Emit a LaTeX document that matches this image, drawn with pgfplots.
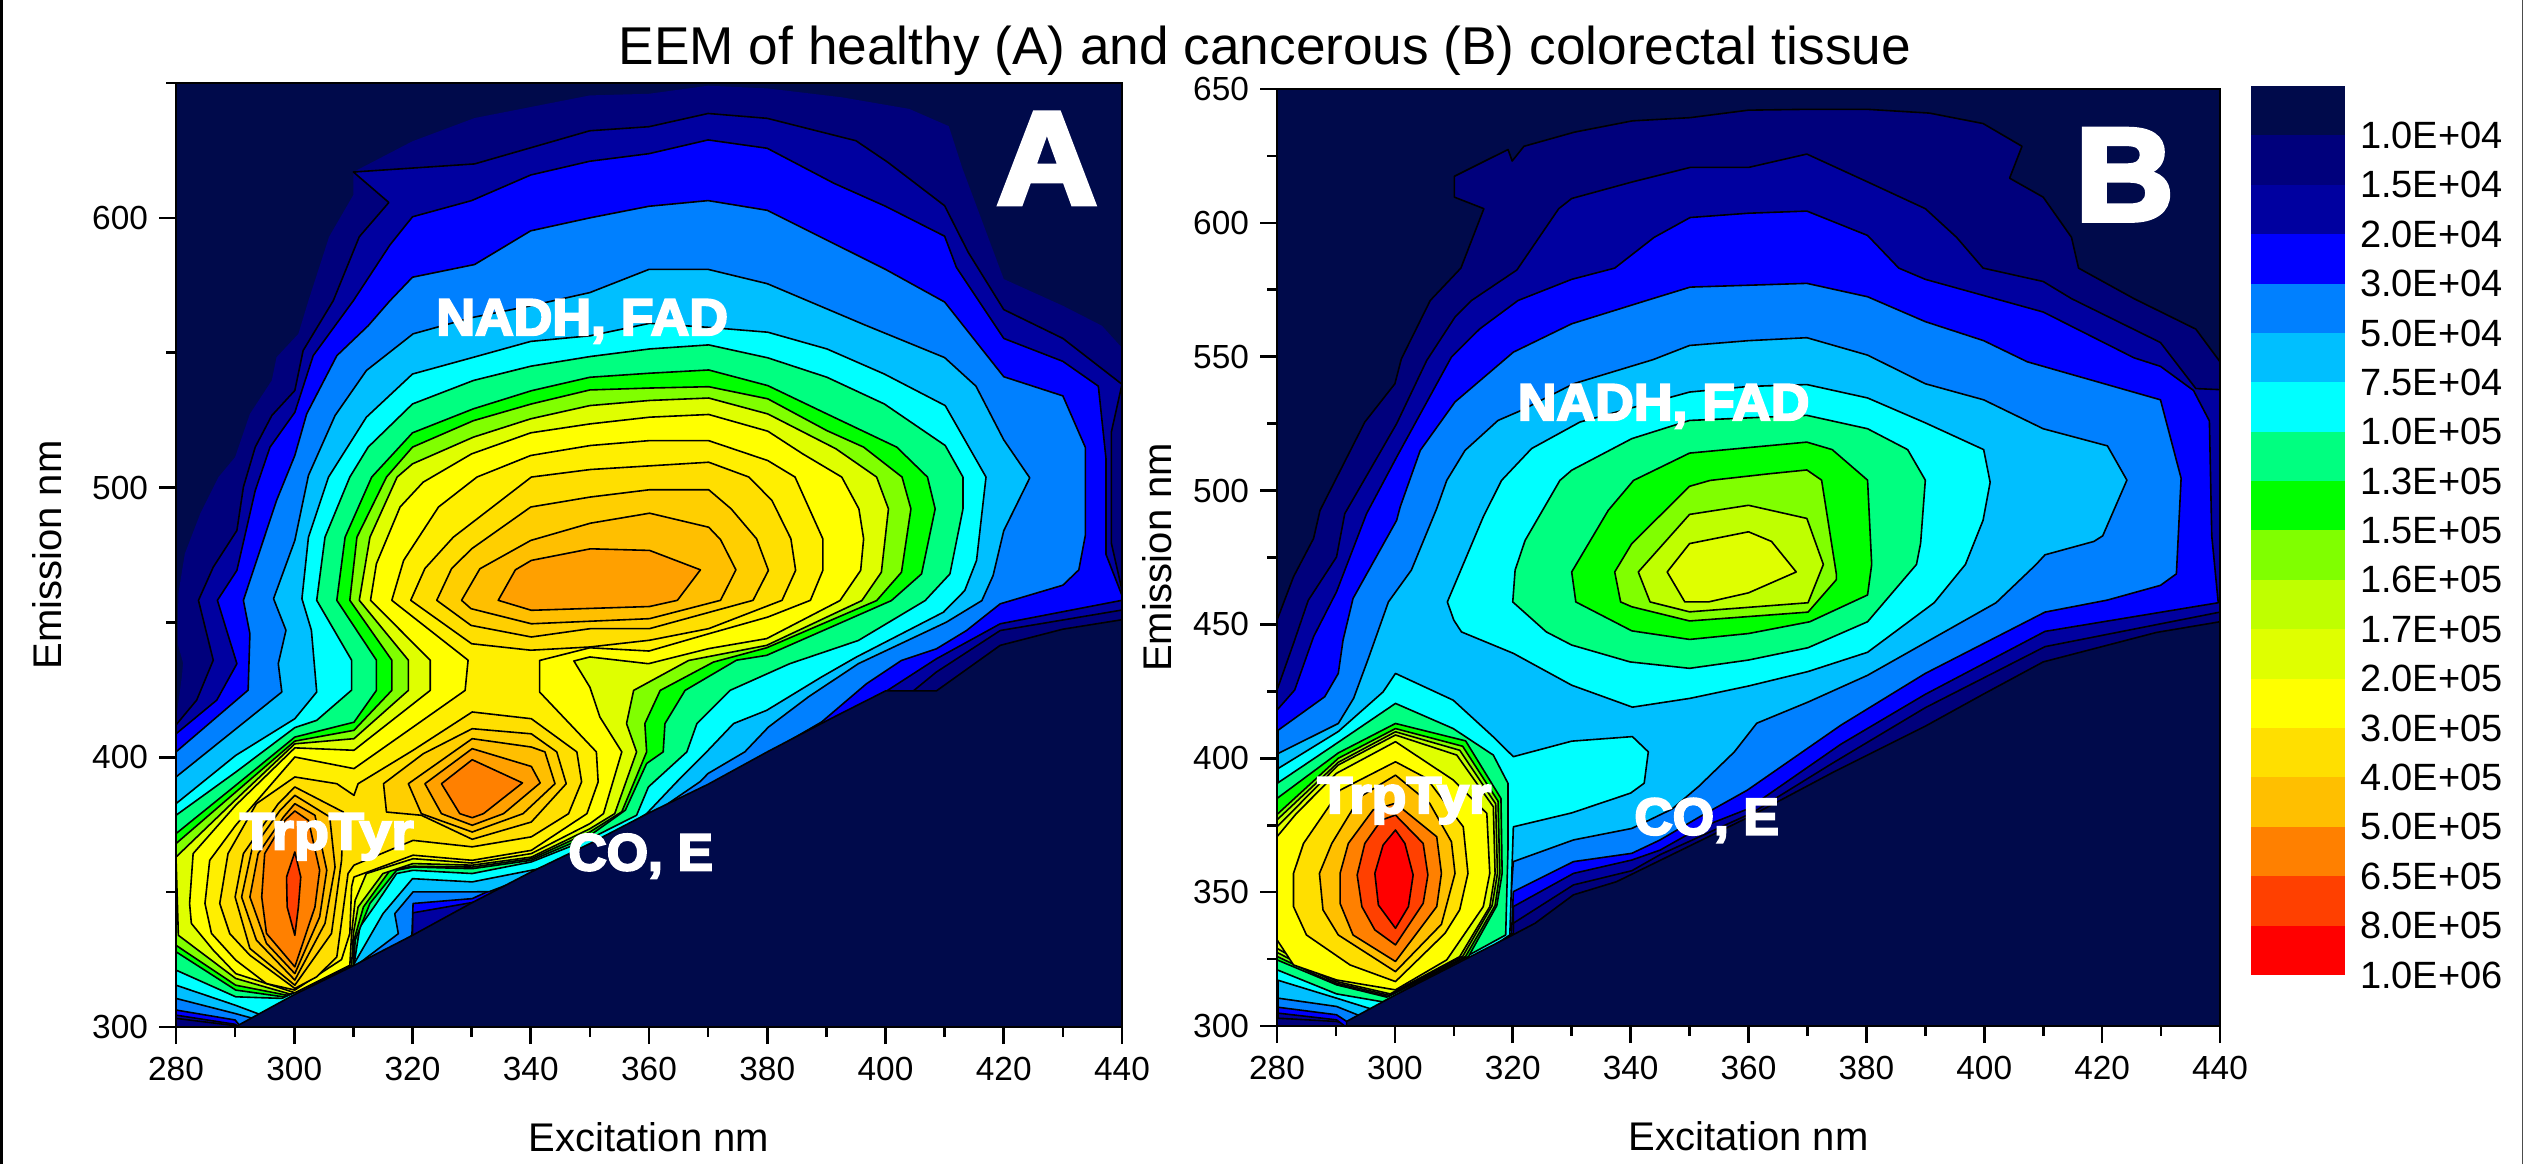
\documentclass[border=0pt]{standalone}
\usepackage{fontspec}
\usepackage{graphicx}
\setmainfont{Liberation Sans}
\newfontfamily\blk[FakeBold=4]{Liberation Sans Bold}
\usepackage{pgfplots}
\pgfplotsset{compat=1.18}
\definecolor{c01}{HTML}{000A4B}
\definecolor{c02}{HTML}{00007C}
\definecolor{c03}{HTML}{0000A0}
\definecolor{c04}{HTML}{0000FF}
\definecolor{c05}{HTML}{0080FF}
\definecolor{c06}{HTML}{00BFFF}
\definecolor{c07}{HTML}{00FFFF}
\definecolor{c08}{HTML}{00FF80}
\definecolor{c09}{HTML}{00FF00}
\definecolor{c10}{HTML}{80FF00}
\definecolor{c11}{HTML}{BFFF00}
\definecolor{c12}{HTML}{DFFF00}
\definecolor{c13}{HTML}{FFFF00}
\definecolor{c14}{HTML}{FFEF00}
\definecolor{c15}{HTML}{FFDF00}
\definecolor{c16}{HTML}{FFCF00}
\definecolor{c17}{HTML}{FFBF00}
\definecolor{c18}{HTML}{FFA000}
\definecolor{c19}{HTML}{FF8000}
\definecolor{c20}{HTML}{FF4000}
\definecolor{c21}{HTML}{FF0000}
\pgfplotsset{
  P/.style={fill=#1,draw=black,line width=.8pt,line join=round,mark=none,solid},
  Q/.style={fill=#1,draw=none,mark=none,solid},
  panel/.style={
    scale only axis, axis on top, xmin=280,xmax=440,ymin=300,ymax=650,
    xtick={280,300,...,440}, minor xtick={290,310,...,430},
    tick align=outside, xtick pos=lower, ytick pos=left,
    major tick length=8.5pt, minor tick length=5pt,
    tick style={black,line width=1.3pt}, minor tick style={black,line width=1.3pt},
    axis line style={line width=1.3pt},
    /pgf/number format/assume math mode=true,
    /pgf/number format/1000 sep={},
    tick label style={font=\fontsize{16.7}{18}\selectfont},
    xticklabel style={yshift=-3pt}, yticklabel style={xshift=-2pt},
    xlabel={Excitation nm}, ylabel={Emission nm},
    every axis x label/.style={at={(axis description cs:0.5,0)},anchor=center,yshift=-55pt,font=\fontsize{20}{22}\selectfont},
    axis background/.style={fill=c01},
  },
}
\newcommand{\wt}[5]{\node[white,anchor=base,inner sep=0pt,font=\blk\fontsize{#3}{#3}\selectfont] at (axis cs:#1,#2) {\scalebox{#4}[1]{#5}};}
\begin{document}
\begin{tikzpicture}[x=1pt,y=1pt]
\path[use as bounding box] (0,0) rectangle (1261.5,582);
\draw[line width=1.5pt] (0.75,0)--(0.75,582);
\draw[line width=.6pt,black!70] (1261.2,0)--(1261.2,582);
\node[anchor=center,font=\fontsize{26.6}{28}\selectfont] at (632.5,556.4) {EEM of healthy (A) and cancerous (B) colorectal tissue};

%%%%%%%%%%%%%%%% PANEL A
\begin{axis}[panel, at={(88pt,68.5pt)},anchor=south west,width=473pt,height=472pt,
  ytick={300,400,500,600}, minor ytick={350,450,550,650},
  every axis y label/.style={at={(axis description cs:0,0.5)},rotate=90,anchor=center,yshift=64.5pt,font=\fontsize{20}{22}\selectfont}]
\addplot[Q=c02] coordinates {(280,300)(280,414)(281,430)(281.2,435)(280.3,442)(280.4,460.7)(281.5,475.5)(284.1,490.3)(287.2,503.9)(290,511.3)(292.5,527.3)(296.2,539.7)(297,548.3)(300.7,557)(302.4,569.3)(305.9,593)(310,608.5)(310,617)(320,628.4)(330.5,637)(350,645.4)(360,646)(370,649)(380,648)(392.6,644.7)(404,640.4)(410.7,634)(413,618.4)(420,577.3)(430,567.4)(436.6,560)(440,551.8)(440,300)} --cycle;
\addplot[P=c03] coordinates {(280,412)(283.5,421.2)(286.3,436)(283.8,458.2)(286.3,470.5)(290.3,484.1)(291.4,500.2)(293.4,515)(296.2,526.7)(300.1,536)(301.5,550.8)(306.6,569.3)(311,593)(316,605.7)(310,617)(330.5,620)(350,632.3)(360,633.8)(370,638.7)(380,636.9)(395,628.6)(400.4,620.6)(410,604.5)(414,587.2)(420,566)(430,555.3)(440,538.3)(438.2,520.6)(438.2,479.4)(440,462)(440,454.6)(419.4,447)(408.6,431.6)(404.7,424.6)(400,415)(300,299)(295,299)(290,300.5)(280,303.2)} --cycle;
\addplot[P=c04] coordinates {(280,408.7)(286.9,421.2)(290.3,434.7)(287,458.2)(290.3,469.3)(293.4,498.9)(295.9,515)(300.1,527.9)(303.2,548.9)(310,569.3)(316.2,590)(320,600.4)(330,606.4)(340,615.9)(350,621)(360,623.8)(370,628.9)(380,625.8)(391.3,612.8)(400,604.3)(410,593.2)(412,581.6)(420,555.3)(430,546.8)(436,537.6)(437.3,510.6)(437.3,475.2)(440,460)(440,458.2)(419.4,449.5)(408.6,436.5)(400.2,424.6)(360,372)(331,346.5)(320,342.3)(320,334)(310,312)(291,299.5)(290,301)(280,304.4)} --cycle;
\addplot[P=c05] coordinates {(280,402)(292.2,424.9)(292.5,445.8)(291.4,458.2)(297,495.2)(300.1,511.9)(302.1,527.3)(307.2,548.9)(312.5,560)(316.2,569.3)(320,578)(330.5,582.7)(340,595.2)(350,600)(360,604.3)(370,606.4)(380,602.8)(400,580.9)(410,568.8)(420,541.1)(430,534)(433.8,514.9)(433.8,482.3)(432.7,469.5)(430,463.8)(419.4,456.9)(413.7,447)(408.6,440.2)(402.7,435.9)(396.8,427.3)(389.2,413.1)(360,376)(332,349.5)(330.1,347.6)(320.1,345.8)(319.9,334)(310,315)(291,300)(290,302.6)(280,306.3)} --cycle;
\addplot[P=c06] coordinates {(280,392.7)(297.9,424.2)(297.3,434.7)(298.6,447.1)(296.5,458.8)(300.1,480.4)(302.4,504.5)(306.9,526.7)(312.2,543.4)(315.4,548.9)(320.1,557)(330,563)(340,567.4)(350,572.3)(360,580.9)(370,580.9)(380,575.6)(396.5,560.3)(410,548.2)(415.3,537.6)(420,517.7)(424.4,503.6)(420,484)(418.2,467.4)(416.3,458.1)(410.3,450.1)(395.4,434.7)(386.9,422.3)(380.2,411.2)(376.2,402)(370,394)(368.6,390.9)(362,381)(350,366)(340,356)(333,350.2)(330.1,350.1)(320.1,350.1)(317,342)(317.6,334.6)(310,322)(300,306)(295,302)(290,305)(280,310.6)} --cycle;
\addplot[P=c07] coordinates {(280,382.8)(290.1,400.7)(300.1,414.3)(303.8,424.2)(302.9,447.1)(301.3,458.8)(302.4,481.6)(305.8,503.9)(312.2,526.1)(320,542.1)(330.3,548.3)(340,554.2)(350.1,556.3)(360.1,560.9)(370.1,559.4)(380.1,557.6)(390.1,551.4)(399.8,542.1)(410.1,530.4)(417,503.9)(415.4,473)(413.4,461.8)(409.8,453.8)(395.1,437.2)(389.2,429.8)(379.9,417.4)(374.3,412.5)(370,402.6)(364.7,390.9)(359.6,379.1)(350,366)(341,358.5)(330.1,353.8)(320,355)(315,342)(310,323)(300,308)(295,304)(290,308.1)(280,315.5)} --cycle;
\addplot[P=c08] coordinates {(410.9,468)(406.7,458.1)(395.4,443.3)(383.8,434.7)(373.7,424.8)(368.1,412.5)(366.4,402)(359.9,389)(357.9,378.5)(350,369.8)(340.1,361.2)(330.1,356.9)(320.1,358.1)(317.3,356.9)(313.9,345.8)(311.1,337.1)(310.1,322.9)(297.9,310.6)(290.1,311.2)(280,321.1)(280,378.5)(290.1,394.5)(300.1,411)(303.8,413.7)(309.7,424.9)(309.7,436)(303.8,458.2)(305.2,481.6)(309.4,503.9)(312.5,515)(320,531)(330.3,539.7)(340,545)(350.1,548.6)(360.1,551.4)(370.1,552.9)(380.1,548.1)(390.1,540.9)(399.8,531)(410.1,515.6)(413.1,503.9)(413.1,492.1)} --cycle;
\addplot[P=c09] coordinates {(406.1,468)(401,458.1)(379.9,437.8)(374.8,436)(366.1,424.8)(362.7,412.5)(362.4,402)(359.6,397.7)(356,380.4)(350,371)(340.1,361.8)(330.1,358.7)(320.1,359.3)(317.3,358.1)(312.8,345.8)(310.3,332.2)(310.1,322.9)(298.1,311.2)(290.1,313.7)(280,327.9)(280,371.7)(290.1,389.6)(300.1,407.5)(310.1,413)(313.9,424.8)(313.9,436)(307.2,458.2)(308.6,481.6)(313.1,503.9)(320,520.3)(330.3,529.2)(340.1,535.9)(350,540.9)(360.1,542.4)(370.1,543.6)(380.1,537.8)(390.1,527.3)(401.9,515)(407.1,503.9)(408.4,492.1)} --cycle;
\addplot[P=c10] coordinates {(402.7,468.6)(398.5,458.1)(379.9,440.6)(370.9,435.3)(361.9,424.8)(359.3,412.5)(359.6,402)(355.4,379.8)(350,372.3)(340.1,362.4)(330.1,359.3)(320.1,359.6)(316.2,358.1)(311.7,344.5)(310.1,332.2)(310,322.9)(298.7,311.8)(290.1,315.5)(280,330.3)(280,368)(290.1,387.1)(300.1,406)(310.1,410)(316.5,424.8)(316.5,436)(309.4,458.2)(310.6,481.6)(315.6,503.9)(320,515)(330.3,524.8)(340.1,531)(350,536.2)(360.1,536.9)(370.1,537.4)(380.1,532.9)(390.1,521.1)(396.3,515)(402.8,503.9)(404.3,492.1)} --cycle;
\addplot[P=c12] coordinates {(399.3,468.6)(396,458.1)(379.9,441.5)(366.7,435.9)(357.4,424.8)(356.2,412.5)(357.9,402)(354.2,379.1)(350,373.5)(340.1,363)(330.1,360)(320.1,360.6)(315,356.9)(310.8,344.5)(310,334.7)(309.7,322.9)(299.3,312.2)(290.1,318)(280.4,334)(280,363)(290.1,384.3)(300.1,405)(310.1,406.9)(319.3,424.8)(319.3,436)(311,458.2)(312.8,481.6)(317.4,503.9)(320,508.8)(330.3,518.7)(340,525.5)(350,530.4)(360.1,532.3)(370.1,533.2)(380.1,527.3)(391.6,514.4)(398.5,503.9)(400.5,492.1)} --cycle;
\addplot[P=c13] coordinates {(355.4,402)(352.3,379.1)(350,375.4)(340.1,364.3)(330.1,360.8)(320.1,362.4)(312.2,356.9)(310.3,347)(309.7,334.7)(309.4,322.9)(300.1,312.7)(290.1,319.8)(286.3,328.5)(282.6,338.4)(282.3,345.8)(282.9,364.3)(290.1,382.2)(300.1,403.5)(310.1,402.6)(323,424.8)(323,436)(312.9,458.2)(313.9,471.8)(317.9,492.8)(321.8,502)(330,512.5)(340,520.3)(350,523.6)(360.1,526.1)(370.1,527.1)(380.1,520.9)(386,512.5)(392.6,503.9)(395.5,492.1)(396.3,481)(395.8,469.3)(392.3,458.1)(379.9,444)(370.1,440.3)(359.9,434.7)(350,437.2)(347.3,435.7)(350,426)(351.7,414.9)} --cycle;
\addplot[P=c14] coordinates {(316.5,458.2)(318.5,473)(324.4,492.8)(330.9,503.9)(340,511.9)(350.1,515.6)(360,517.4)(370.1,517.4)(380.1,510)(384.7,503.9)(389.4,481)(389.4,469.3)(387.3,458.2)(380.1,452)(370.1,445.8)(360,439.4)(350,440.6)(341.5,435.9)(341.5,424.2)(351.1,402)(351.4,390.9)(349.5,379.1)(340.1,365.5)(330.1,361.8)(320.1,363.7)(310.1,355.6)(309.7,352)(309.4,334.7)(308,325)(300.1,313.7)(295.3,316.1)(290.1,324.8)(286,334.7)(284.9,345.8)(285.7,361.8)(290.1,374.8)(300.1,400.1)(310.1,395.8)(328.9,424.8)(329.4,436)} --cycle;
% upper blob rings
\addplot[P=c15] coordinates {(319.7,458.2)(322.1,470)(326.9,481.6)(340.1,503.9)(350.1,506.7)(370.1,509.4)(376.9,503.9)(380.8,495.2)(384,481)(384.8,469.3)(382.5,458.2)(370.1,447.7)(360.1,443.4)(350,440.9)(340,439.7)(330,442.1)} --cycle;
\addplot[P=c16] coordinates {(324.1,458.2)(326.6,469.9)(330,477.3)(340,492.8)(350.1,496.5)(360.1,499.2)(370.1,499.2)(373.9,492.1)(378.2,481)(380.2,469.3)(377.6,458.2)(360.1,447.7)(350.1,447.7)(340.1,444.6)(329.9,448.9)} --cycle;
\addplot[P=c17] coordinates {(328.3,458.2)(331.4,469.9)(340,480.4)(350.1,486.8)(360.1,490.5)(370.1,485.3)(372.1,480.7)(374.7,469.5)(372.1,458.2)(360.1,451.4)(340.1,449.5)(329.9,455.1)} --cycle;
\addplot[P=c18] coordinates {(334.5,458.2)(337.4,469.5)(340.1,473)(350.1,477.3)(360.1,476.7)(368.7,469.5)(364.8,458.2)(360.1,455.9)(340.1,454.5)} --cycle;
% lower joined region
\addplot[P=c15] coordinates {(310.8,390.2)(320.1,402.6)(330.1,416.8)(340.1,414.3)(347.8,402)(348.6,390.9)(346.4,379.1)(340.1,370.5)(330.1,366.8)(320.1,369.2)(310.1,360)(309.1,356.9)(307.2,326)(303.8,318.6)(300.1,314.3)(292.5,326.6)(289.1,334.6)(287.4,345.8)(288.8,364.3)(293.6,382.8)(300.1,392.7)(307.2,390.2)(310.1,385.9)} --cycle;
\addplot[P=c16] coordinates {(315.1,390.2)(315.6,379.7)(321.5,378.5)(330.1,369.6)(340.1,376)(346,390.2)(344.4,402)(340.1,408.7)(330.1,410.6)(321.8,401.3)} --cycle;
\addplot[P=c17] coordinates {(319.3,390.2)(321.5,379.1)(330.1,372.3)(338.7,379.1)(344.1,390.2)(342.4,402)(340.1,403.8)(330.1,406.9)} --cycle;
\addplot[P=c18] coordinates {(322.1,390.2)(324.9,379.1)(330.1,374.8)(335.4,379.1)(341.6,390.5)(340.1,396.6)(330.1,403.2)} --cycle;
\addplot[P=c19] coordinates {(324.9,390.2)(328,379.1)(330.1,377.6)(332,379.1)(338.6,390.5)(330.1,399.1)} --cycle;
\addplot[P=c16] coordinates {(300.1,389)(308.3,379.7)(308,361.8)(306.3,334.7)(300.1,315.5)(292.5,329.1)(290,348.2)(291.4,364.3)(297.3,382.8)} --cycle;
\addplot[P=c17] coordinates {(300.1,385.9)(306,377.9)(306.9,359.3)(305.2,338.4)(300.1,317.4)(293.6,332.2)(291.1,348.2)(292.8,365.5)(297.6,380.3)} --cycle;
\addplot[P=c18] coordinates {(300.1,382.8)(303.5,378.5)(305.5,358.1)(304.3,340.8)(300.1,319.8)(295.3,331)(292.5,348.2)(293.9,364.3)(298.2,377.9)} --cycle;
\addplot[P=c19] coordinates {(300.1,380.1)(302.4,376.6)(304.3,358.1)(303.5,344.5)(300.1,322.3)(295.3,334.7)(294.5,348.2)(295,364.3)(298.4,376.6)} --cycle;
\addplot[P=c20] coordinates {(300.1,364.9)(301.1,355.6)(300.7,344.5)(300.1,334)(298.8,344.5)(298.7,355.6)} --cycle;
% empty triangle
\addplot[P=c01] coordinates {(290,300)(300,312)(310,322.7)(320,334)(330,346)(340,357.4)(350,368)(360,379.4)(370,390)(380,402)(390,413.5)(400,424.6)(408.6,424.6)(419.4,441.5)(430,447.5)(440,451)(440,300)} --cycle;
\wt{348.7}{556.5}{26}{1.03}{NADH, FAD}
\wt{305.5}{365.9}{26}{1.1}{TrpTyr}
\wt{358.6}{358.1}{26}{1.02}{CO, E}
\wt{427.3}{605.2}{66}{1.05}{A}
\end{axis}

%%%%%%%%%%%%%%%% PANEL B
\begin{axis}[panel, at={(638.5pt,69pt)},anchor=south west,width=471.5pt,height=468.5pt,
  ytick={300,350,...,650}, minor ytick={325,375,...,625},
  every axis y label/.style={at={(axis description cs:0,0.5)},rotate=90,anchor=center,yshift=60pt,font=\fontsize{20}{22}\selectfont}]
\addplot[P=c02] coordinates {(280,300)(280,451.6)(282.8,467.8)(286.2,482.1)(287.3,492.6)(294.9,525.6)(300,539.9)(301.1,549.2)(306,571)(311.2,583.1)(315.1,605.3)(310.1,609.6)(310.1,617.4)(319.2,627.4)(319.9,623.1)(321.9,628.6)(330.5,633.9)(340.3,638.1)(350.1,639.3)(360,642.1)(369.9,642.4)(380.2,642.4)(390.7,641)(399.8,637.1)(406.4,628.6)(404.3,616.7)(410,609.6)(414.8,594.6)(416,583.1)(425.4,571.7)(435.9,560.3)(440,548.1)(440,300)} --cycle;
\addplot[P=c03] coordinates {(280,425.5)(282.8,442.9)(285.3,459)(290.1,475.2)(291.5,491.4)(300.3,525)(305.4,548.6)(310.2,564.8)(313,571)(320.7,582.4)(327.8,605.3)(330,609.1)(340.3,615.3)(350.1,620.7)(360,620.7)(369.9,625.7)(380.2,615.3)(390,605.3)(395.3,594.6)(399.8,583.1)(410,578.1)(414.8,571.7)(429.9,555.3)(435.9,538.1)(440,537.7)(440,454.6)(410.3,441.7)(390,418.9)(374.2,398.1)(360.6,379.6)(345,364)(340.2,358)(330.3,352.7)(320.1,338.4)(320,330)(295,299)(290.1,301.7)(280.2,302.9)} --cycle;
\addplot[P=c04] coordinates {(280,418)(283,425.5)(286.2,445.4)(290.1,462.2)(295.2,491.4)(300.3,512.5)(309.6,549.9)(314.4,560.4)(320.9,571)(330,578.9)(337.3,583.1)(344,594.6)(350.1,602)(360,603.6)(369.9,604.4)(380.2,595.3)(385.5,583.1)(390,578.9)(410,566.7)(425.4,549.6)(429.9,546.4)(435.5,537.4)(438.2,526)(438.6,483.1)(439.7,458.1)(410.3,447.4)(390,423.9)(375.7,405.3)(359.8,381)(351.6,373.9)(345,365.7)(340.2,362)(330.3,357)(320.1,344.6)(320.1,334.6)(300,305)(291.5,300)(290.1,302.3)(280.2,304.8)} --cycle;
\addplot[P=c05] coordinates {(280.2,410.5)(288.1,423)(290.4,431.7)(291.2,444.1)(292.9,459.7)(300.3,488.9)(300.9,493.9)(304.3,515)(310.2,533.1)(320.1,551.7)(330,562.3)(342.7,571)(350.1,576)(360,576.7)(369.9,577.4)(380.2,572.4)(390,563.1)(399.9,556)(407.3,548.1)(429.9,533.9)(433.4,504.6)(432.6,468.9)(429.9,464.6)(420.9,459.1)(410.3,454.6)(390,431.7)(375.7,412.4)(359.8,388.1)(351.6,378)(345,369.5)(340.2,364.5)(330.3,361.4)(320.1,350.2)(319.8,334.6)(305,315)(293,300)(290.1,304.2)(280.2,307)} --cycle;
\addplot[P=c06] coordinates {(280.2,401.8)(290.4,413)(293,422.4)(295.5,437.3)(298.9,458.4)(302.8,470.3)(307.1,493.3)(308.8,503.8)(311.9,515)(317.5,526.2)(321.5,530)(330.3,539.9)(343.8,548.9)(350,554.2)(360,556)(369.9,557.1)(380.2,550.6)(390,539.9)(399.9,533.9)(410,523.1)(420.9,516.7)(424.2,503.9)(420.1,483.1)(418.6,481)(410.3,476)(408.8,472.4)(402,458.1)(380.2,431)(370.1,421)(361.4,413.1)(357.6,402.4)(351.6,389.6)(347,381)(340.2,373.8)(330.3,369.5)(320.1,361.4)(319.2,334)(308,318)(295,303)(290.1,307.3)(280.2,310.4)} --cycle;
\addplot[P=c07] coordinates {(308.9,458.4)(310,451.6)(311.3,447.2)(320.1,439.2)(330,427.3)(340.3,419.1)(350.1,422.4)(360,427)(370.1,432.4)(380.2,439.6)(391.5,458.1)(396.8,472.4)(399.8,488.9)(401,503.1)(399.9,515.3)(390,525.3)(380.2,534.6)(369.9,539.6)(360,538.9)(350,536.8)(331.4,525.6)(323.2,515.7)(318.1,503.8)(315,490.2)} --cycle;
\addplot[P=c08] coordinates {(320,458.4)(325.7,447.2)(330,442.3)(339.9,436)(350,433.6)(360,436.7)(370.1,441.3)(380.2,451)(388.5,472.4)(389.2,480.3)(390,503.9)(387,515.3)(380.2,523.1)(369.9,528.1)(350,526.2)(340.2,519.4)(330,507.6)(328,503.8)(322.1,481.4)(320.4,470.3)} --cycle;
\addplot[P=c09] coordinates {(330,469.6)(330.7,458.4)(340.2,447.6)(350,444.4)(360,446.6)(370.4,451)(380.2,461)(380.9,472.4)(380.2,503.9)(374.2,515.3)(369.9,518.1)(350,514)(340.5,503.8)(336.2,492.6)} --cycle;
\addplot[P=c10] coordinates {(337.3,469.6)(338.3,458.4)(340.2,456.6)(350,451.3)(370.1,454.6)(374.9,466.7)(374.9,468.9)(372.4,503.9)(369.9,507.7)(363.6,506.3)(353.5,503.8)(350,501.6)(340.2,480.2)} --cycle;
\addplot[P=c11] coordinates {(341.3,469.6)(343.3,458.4)(350,454.7)(370.1,458.1)(372.7,472.4)(369.9,489.6)(360,494.5)(350,491.1)} --cycle;
\addplot[P=c12] coordinates {(346.2,469.6)(349.2,458.4)(353.2,458.4)(360,461.8)(368.1,469.6)(363.9,481)(360,484.6)(350,480.2)} --cycle;
% Trp peak
\addplot[P=c07] coordinates {(280.2,396.2)(290.4,410)(298,424.8)(300.1,431.7)(309.9,421.7)(316.7,408)(320.1,400.6)(330,406.4)(340.3,408.1)(343,402.4)(342.3,390.7)(340,387)(330,379.6)(320.1,374.4)(319.5,334)(310,320)(296.5,306)(290.1,310.4)(280,317.2)} --cycle;
\addplot[P=c08] coordinates {(280,390.6)(290.4,406)(300.1,420.5)(309.9,411.1)(316.7,401.2)(319.2,390.6)(319.2,367)(318.8,334)(298,309)(290.1,312)(280,321)} --cycle;
\addplot[P=c09] coordinates {(280,385)(290.4,402)(300.1,413)(312,406.5)(318,385)(318.2,357)(317.3,345)(312.5,326)(298.6,310.8)(290.1,315.4)(280,324.7)} --cycle;
\addplot[P=c10] coordinates {(280,379)(290.4,400)(300.1,411.1)(311.5,404.5)(317.5,384)(317.8,357)(317,345)(312,326)(298.9,311)(290.1,315.5)(280,326)} --cycle;
\addplot[P=c11] coordinates {(280,377)(290.4,398.5)(300.1,409.9)(311,403)(317.1,383)(317.4,357)(316.5,345)(311.5,326)(299,311.5)(290.1,316)(280,327.5)} --cycle;
\addplot[P=c12] coordinates {(280,374.4)(290.4,397.5)(300.1,408.7)(310.5,401.2)(316.7,381.9)(317,357)(316.1,344.6)(311,325.9)(299.2,312)(290.1,316.6)(280,329)} --cycle;
\addplot[P=c13] coordinates {(280,370.7)(283.3,379.4)(290.1,394.4)(300.1,406.2)(309.9,391.9)(315.6,379.4)(316.1,357)(315,344.6)(308.8,324.7)(300.1,313.5)(290.1,317.2)(282.8,322.8)(280,332.2)} --cycle;
\addplot[P=c15] coordinates {(300.1,398.7)(305.4,392.5)(311.6,374.4)(312.4,357)(311,343.4)(308.5,334.6)(300.1,316.6)(292.4,322.8)(285,334)(282.8,344.6)(282.8,357)(284.5,368.2)(290.7,388.1)} --cycle;
\addplot[P=c17] coordinates {(300.1,393.7)(305.9,383.2)(309.6,368.8)(310.2,357)(307.9,338)(300.1,320.3)(290.4,334)(287.8,343.4)(287.2,357)(289.3,368.2)(294.1,385.6)} --cycle;
\addplot[P=c19] coordinates {(300.1,383.2)(307.1,370.7)(307.9,357)(307.1,344.6)(300.1,324.1)(292.9,334)(290.7,345.8)(290.7,357)(292.1,368.2)(296.3,380.7)} --cycle;
\addplot[P=c20] coordinates {(300.1,378.8)(304.8,368.2)(305.6,356.4)(304.8,345.8)(300.1,330.3)(296.6,335.9)(294.4,344.6)(293.6,356.4)(294.9,368.2)(297.7,376.9)} --cycle;
\addplot[P=c21] coordinates {(300.1,373.2)(301.7,368.2)(303.1,356.4)(302.3,344.6)(300.1,336.5)(297.2,345.2)(296.6,357)(298,367.6)} --cycle;
\addplot[P=c01] coordinates {(291.8,300)(291.8,301.7)(300.1,311.6)(309,321.6)(316.7,330.3)(320,334)(323.8,338.4)(330.3,349)(337.6,353.9)(345.5,362.4)(360,378)(374.2,394.6)(390,412)(399.8,423.9)(410,436)(429.2,447)(440,451)(440,300)} --cycle;
\wt{345.6}{526.3}{26}{1.03}{NADH, FAD}
\wt{301.6}{379.5}{26}{1.1}{TrpTyr}
\wt{352.9}{371.5}{26}{1.02}{CO, E}
\wt{423.8}{601}{66}{1.03}{B}
\end{axis}

%%%%%%%%%%%%%%%% COLOUR SCALE
\begin{axis}[at={(1125.5pt,94.5pt)},anchor=south west,scale only axis,width=47pt,height=444.5pt,
  xmin=0,xmax=1,ymin=0,ymax=18,axis line style={draw=none},xtick=\empty,
  ytick={0,1,...,17},ytick pos=right,major tick length=0pt,
  yticklabels={1.0E+06,8.0E+05,6.5E+05,5.0E+05,4.0E+05,3.0E+05,2.0E+05,1.7E+05,1.6E+05,1.5E+05,1.3E+05,1.0E+05,7.5E+04,5.0E+04,3.0E+04,2.0E+04,1.5E+04,1.0E+04},
  yticklabel style={font=\fontsize{19}{20}\selectfont,anchor=west,xshift=4pt}]
\addplot[Q=c21] coordinates {(0,0)(1,0)(1,1)(0,1)} --cycle;
\addplot[Q=c20] coordinates {(0,1)(1,1)(1,2)(0,2)} --cycle;
\addplot[Q=c19] coordinates {(0,2)(1,2)(1,3)(0,3)} --cycle;
\addplot[Q=c17] coordinates {(0,3)(1,3)(1,4)(0,4)} --cycle;
\addplot[Q=c15] coordinates {(0,4)(1,4)(1,5)(0,5)} --cycle;
\addplot[Q=c13] coordinates {(0,5)(1,5)(1,6)(0,6)} --cycle;
\addplot[Q=c12] coordinates {(0,6)(1,6)(1,7)(0,7)} --cycle;
\addplot[Q=c11] coordinates {(0,7)(1,7)(1,8)(0,8)} --cycle;
\addplot[Q=c10] coordinates {(0,8)(1,8)(1,9)(0,9)} --cycle;
\addplot[Q=c09] coordinates {(0,9)(1,9)(1,10)(0,10)} --cycle;
\addplot[Q=c08] coordinates {(0,10)(1,10)(1,11)(0,11)} --cycle;
\addplot[Q=c07] coordinates {(0,11)(1,11)(1,12)(0,12)} --cycle;
\addplot[Q=c06] coordinates {(0,12)(1,12)(1,13)(0,13)} --cycle;
\addplot[Q=c05] coordinates {(0,13)(1,13)(1,14)(0,14)} --cycle;
\addplot[Q=c04] coordinates {(0,14)(1,14)(1,15)(0,15)} --cycle;
\addplot[Q=c03] coordinates {(0,15)(1,15)(1,16)(0,16)} --cycle;
\addplot[Q=c02] coordinates {(0,16)(1,16)(1,17)(0,17)} --cycle;
\addplot[Q=c01] coordinates {(0,17)(1,17)(1,18)(0,18)} --cycle;
\end{axis}
\end{tikzpicture}
\end{document}
